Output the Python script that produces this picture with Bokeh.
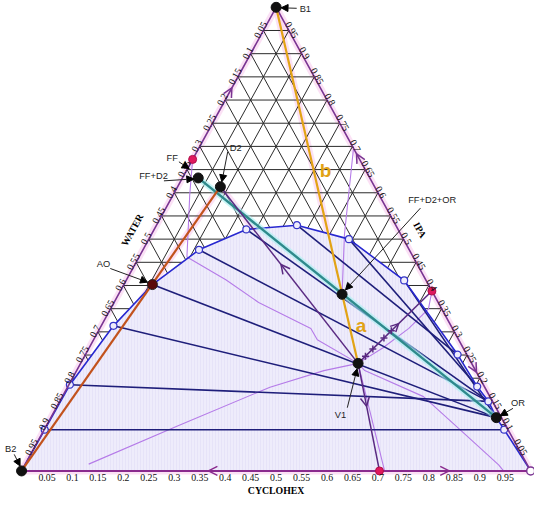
import math
import numpy as np
from bokeh.plotting import figure
from bokeh.models import Range1d, Arrow, NormalHead, OpenHead
from bokeh.core.properties import value
from bokeh.embed import file_html
from bokeh.resources import INLINE

# ---------------- DATA (mole fractions: c = cyclohexane, i = IPA, water = 1 - c - i)
tick_vals = [0.05, 0.10, 0.15, 0.20, 0.25, 0.30, 0.35, 0.40, 0.45, 0.50,
             0.55, 0.60, 0.65, 0.70, 0.75, 0.80, 0.85, 0.90, 0.95]
tick_text = ["0.05", "0.1", "0.15", "0.2", "0.25", "0.3", "0.35", "0.4", "0.45", "0.5",
             "0.55", "0.6", "0.65", "0.7", "0.75", "0.8", "0.85", "0.9", "0.95"]

# binodal curve (B2 -> water-rich branch -> plait region -> organic branch -> cyclohexane)
binodal_c = [0.000, 0.001, 0.002, 0.024, 0.056, 0.110, 0.181, 0.276, 0.393, 0.546, 0.731, 0.804, 0.842, 0.875, 0.9035, 1.000]
binodal_i = [0.000, 0.089, 0.186, 0.313, 0.402, 0.477, 0.521, 0.530, 0.500, 0.411, 0.251, 0.182, 0.150, 0.115, 0.089, 0.000]
circle_c = [0.001, 0.002, 0.024, 0.110, 0.181, 0.276, 0.393, 0.546, 0.731, 0.804, 0.842, 0.9035]
circle_i = [0.089, 0.186, 0.313, 0.477, 0.521, 0.530, 0.500, 0.411, 0.251, 0.182, 0.150, 0.089]

# tie lines (phase 1 -> phase 2)
tie1_c = [0.001, 0.002, 0.024, 0.056, 0.110, 0.181, 0.276, 0.393, 0.546]
tie1_i = [0.089, 0.186, 0.313, 0.402, 0.477, 0.521, 0.530, 0.500, 0.411]
tie2_c = [0.9035, 0.842, 0.875, 0.875, 0.842, 0.842, 0.731, 0.804, 0.875]
tie2_i = [0.089, 0.150, 0.115, 0.115, 0.150, 0.150, 0.251, 0.182, 0.115]

# named points (c, i)
B1 = (0.000, 1.000)
B2 = (0.000, 0.000)
AO = (0.056, 0.402)
D2 = (0.084, 0.613)
FF = (0.000, 0.672)
FFD2 = (0.031, 0.632)
FFD2OR = (0.439, 0.381)
V1 = (0.545, 0.232)
OR = (0.875, 0.115)
AZ_WC = (0.703, 0.000)     # water-cyclohexane azeotrope
AZ_IC = (0.612, 0.388)     # IPA-cyclohexane azeotrope

# residue-curve / boundary lines (thin violet)
curveA_c = [0.1245, 0.2568, 0.3976, 0.4856, 0.545, 0.5767, 0.6070, 0.6245, 0.612]
curveA_i = [0.0147, 0.0966, 0.1807, 0.2164, 0.232, 0.2653, 0.3074, 0.3494, 0.388]
curveB_c = [0.000, 0.033, 0.062, 0.094, 0.195, 0.284, 0.4145, 0.4394, 0.545]
curveB_i = [0.672, 0.5945, 0.5315, 0.4616, 0.4124, 0.3634, 0.3074, 0.2830, 0.232]
curveC_c = [0.545, 0.5659, 0.7094, 0.8149, 0.9305, 0.9467]
curveC_i = [0.232, 0.2164, 0.1603, 0.0903, 0.0132, 0.000]
curveD_c = [0.304, 0.379, 0.439]
curveD_i = [0.696, 0.5105, 0.381]
curveE_c = [0.545, 0.713]
curveE_i = [0.232, 0.000]

# ---------------- geometry (layout only)
W, H = 534, 496
SX, SY = 0.98, 0.974
REF_L, REF_R, REF_T, REF_B = 21.5, 541.0, 7.0, 483.0   # triangle corners in 550x512 layout
UX, UY = REF_R - REF_L, REF_B - REF_T                  # layout px per unit
PXX, PXY = UX * SX, UY * SY                            # screen px per unit
x0 = -REF_L * SX / PXX
y1 = REF_B * SY / PXY

def T(c, i):
    c = np.asarray(c, float); i = np.asarray(i, float)
    return c + 0.5 * i, i

def off(pt, dx, dy):
    X, Y = T(*pt)
    return float(X) + dx / UX, float(Y) - dy / UY

p = figure(width=W, height=H, x_range=Range1d(x0, x0 + W / PXX),
           y_range=Range1d(y1 - H / PXY, y1), output_backend="svg",
           toolbar_location=None, min_border=0, outline_line_color=None,
           x_axis_location=None, y_axis_location=None)
p.xgrid.visible = False
p.ygrid.visible = False
p.background_fill_color = "white"

theta = math.atan2(PXY, PXX / 2)

PURPLE = "#7A3592"
DARKP = "#5A2A82"
VIOLET = "#B57BE8"
PINK = "#F9CDEE"

# pink halos
for seg in [(B2, B1), (B1, (1, 0)), ((1, 0), B2), (B2, D2), (B1, V1), (V1, AZ_WC), (D2, V1)]:
    xs, ys = T([seg[0][0], seg[1][0]], [seg[0][1], seg[1][1]])
    p.line(xs, ys, line_color=PINK, line_width=7, line_alpha=0.6)

# grid (constant i, constant c, constant w)
gx, gy = [], []
for v in tick_vals:
    a = T([0, 1 - v], [v, v]); gx.append(a[0]); gy.append(a[1])
    a = T([v, v], [0, 1 - v]); gx.append(a[0]); gy.append(a[1])
    a = T([1 - v, 0], [0, 1 - v]); gx.append(a[0]); gy.append(a[1])
p.multi_line(gx, gy, line_color="#2b2b2b", line_width=1)

# two-phase region
bx, by = T(binodal_c, binodal_i)
p.patch(bx, by, fill_color="#EEECFB", line_color=None,
        hatch_pattern="vertical_line", hatch_color="#DCD7F4", hatch_scale=3,
        hatch_weight=0.6, hatch_alpha=0.7)

# thin violet residue curves
for cc, ii in [(curveA_c, curveA_i), (curveB_c, curveB_i), (curveC_c, curveC_i),
               (curveD_c, curveD_i), (curveE_c, curveE_i)]:
    p.line(*T(cc, ii), line_color=VIOLET, line_width=1.1)

# tie lines
tx = [T([a, b], [c, d])[0] for a, b, c, d in zip(tie1_c, tie2_c, tie1_i, tie2_i)]
ty = [T([a, b], [c, d])[1] for a, b, c, d in zip(tie1_c, tie2_c, tie1_i, tie2_i)]
p.multi_line(tx, ty, line_color="#1E1E7A", line_width=1.6)

# binodal
p.line(bx, by, line_color="#2828D0", line_width=1.6)
p.scatter(*T(circle_c, circle_i), size=7, marker="circle", line_color="#3434C8",
          fill_color="#EEECFB", line_width=1.2)

# triangle edges
ex, ey = T([0, 0, 1, 0], [0, 1, 0, 0])
p.line(ex, ey, line_color=PURPLE, line_width=1.6)
xs, ys = T([0, 1], [0, 0])
p.line(xs, ys, line_color="#8A2A8E", line_width=2)

# special lines
p.line(*T([FFD2[0], OR[0]], [FFD2[1], OR[1]]), line_color="#A8F0F2", line_width=6, line_alpha=0.6)
p.line(*T([FFD2[0], OR[0]], [FFD2[1], OR[1]]), line_color="#2E8A8C", line_width=2.4)
p.line(*T([B2[0], D2[0]], [B2[1], D2[1]]), line_color="#C2521C", line_width=2.2)
p.line(*T([D2[0], V1[0]], [D2[1], V1[1]]), line_color=DARKP, line_width=1.5)
p.line(*T([V1[0], AZ_WC[0]], [V1[1], AZ_WC[1]]), line_color=DARKP, line_width=1.5)
p.line(*T([V1[0], AZ_IC[0]], [V1[1], AZ_IC[1]]), line_color=DARKP, line_width=1.5)
p.line(*T([B1[0], V1[0]], [B1[1], V1[1]]), line_color="#E2A315", line_width=2.2)

# crosses along V1 -> IPA/cyclohexane azeotrope
tcross = np.array([0.1, 0.2, 0.35, 0.45])
cx = V1[0] + tcross * (AZ_IC[0] - V1[0]); cy = V1[1] + tcross * (AZ_IC[1] - V1[1])
p.scatter(*T(cx, cy), marker="cross", size=7, line_color=DARKP, line_width=1.5)

# arrows on lines
def arrow_at(c, i, c2, i2, color, size=9, L=4, width=1.5):
    X, Y = T(c, i); X2, Y2 = T(c2, i2)
    dx, dy = (X2 - X) * PXX, (Y2 - Y) * PXY
    n = math.hypot(dx, dy); ux, uy = dx / n, dy / n
    p.add_layout(Arrow(end=OpenHead(size=size, line_color=color, line_width=width),
                       x_start=float(X) - ux * L / PXX, y_start=float(Y) - uy * L / PXY,
                       x_end=float(X), y_end=float(Y), line_alpha=0))

arrow_at(0.367, 0.0, 0.0, 0.0, "#8A2A8E")
arrow_at(0.84, 0.0, 1.0, 0.0, "#8A2A8E")
arrow_at(0.0, 0.826, 0.0, 1.0, PURPLE)
arrow_at(0.316, 0.684, 0.0, 1.0, PURPLE)
arrow_at(0.787, 0.213, 1.0, 0.0, PURPLE)
tD = 0.44
arrow_at(D2[0] + tD * (V1[0] - D2[0]), D2[1] + tD * (V1[1] - D2[1]), D2[0], D2[1], DARKP)
tV = 0.4
arrow_at(V1[0] + tV * (AZ_WC[0] - V1[0]), V1[1] + tV * (AZ_WC[1] - V1[1]), AZ_WC[0], AZ_WC[1], DARKP)
tI = 0.55
arrow_at(V1[0] + tI * (AZ_IC[0] - V1[0]), V1[1] + tI * (AZ_IC[1] - V1[1]), AZ_IC[0], AZ_IC[1], DARKP, size=8)

# points
red_c = [FF[0], AZ_WC[0], AZ_IC[0]]
red_i = [FF[1], AZ_WC[1], AZ_IC[1]]
p.scatter(*T(red_c, red_i), size=8, marker="circle", fill_color="#E0185E", line_color="#B0104A")
blk_c = [B1[0], B2[0], D2[0], FFD2[0], FFD2OR[0], V1[0], OR[0]]
blk_i = [B1[1], B2[1], D2[1], FFD2[1], FFD2OR[1], V1[1], OR[1]]
p.scatter(*T(blk_c, blk_i), size=10, marker="circle", fill_color="#111111", line_color="#111111")
p.scatter(*T([AO[0]], [AO[1]]), size=10, marker="circle", fill_color="#5A0A0A", line_color="#222222")
p.scatter(*T([1.0], [0.0]), size=8, marker="circle", fill_color="white", line_color=PURPLE, line_width=1.5)

# ---------------- tick labels
serif = value("Liberation Serif")
FS = "9.8px"
tv = np.array(tick_vals)
p.text(*T(tv, np.zeros_like(tv)), text=tick_text, text_align="center", text_baseline="top",
       y_offset=3, text_font=serif, text_font_size=FS, text_color="#111111")
p.text(*T(np.zeros_like(tv), 1 - tv), text=tick_text, angle=theta, text_align="center",
       text_baseline="bottom", y_offset=1, text_font=serif, text_font_size=FS, text_color="#111111")
p.text(*T(1 - tv, tv), text=tick_text, angle=-theta, text_align="center",
       text_baseline="bottom", y_offset=1, text_font=serif, text_font_size=FS, text_color="#111111")

# axis titles
nx, ny = math.sin(theta), math.cos(theta)
L0 = 13.5
p.text(*T([0.5], [0.0]), text=["CYCLOHEX"], text_align="center", text_baseline="middle",
       y_offset=19.5, text_font=serif, text_font_style="bold", text_font_size=FS)
p.text(*T([0.0], [0.50]), text=["WATER"], angle=theta, text_align="center", text_baseline="bottom",
       x_offset=-nx * L0, y_offset=-ny * L0, text_font=serif, text_font_style="bold", text_font_size=FS)
p.text(*T([0.50], [0.50]), text=["IPA"], angle=-theta, text_align="center", text_baseline="bottom",
       x_offset=nx * L0, y_offset=-ny * L0, text_font=serif, text_font_style="bold", text_font_size=FS)

# ---------------- annotations with leaders (offsets in layout px)
sans = value("Liberation Sans")
ann = [  # (point, label, text dx, dy, align, tail dx, dy, head dx, dy)
    (B1, "B1", 24, 2, "left", 21, 1, 5, 0.5),
    (D2, "D2", 9.5, -40, "left", 7.5, -36, 1.5, -5),
    (FF, "FF", -15, -1.5, "right", -14, 2.5, -3.5, 9.5),
    (FFD2, "FF+D2", -31, -2, "right", -35, 3, -4.5, 1),
    (FFD2OR, "FF+D2+OR", 92, -96.5, "center", 80, -88.5, 3.5, -4.5),
    (AO, "AO", -50, -21.5, "center", -43, -16.5, -5, -2.5),
    (B2, "B2", -11, -23, "center", -7.5, -17, -1.5, -5),
    (V1, "V1", -18, 52.5, "center", -11, 45.5, -1, 5.5),
    (OR, "OR", 22, -15, "center", 17, -9.5, 4, -2),
]
for pt, lab, tdx, tdy, al, sdx, sdy, hdx, hdy in ann:
    tx_, ty_ = off(pt, tdx, tdy)
    p.text([tx_], [ty_], text=[lab], text_align=al, text_baseline="middle",
           text_font=sans, text_font_size="9.3px", text_color="#222222")
    xs_, ys_ = off(pt, sdx, sdy)
    xe_, ye_ = off(pt, hdx, hdy)
    p.add_layout(Arrow(end=NormalHead(size=7, fill_color="black", line_color="black"),
                       x_start=xs_, y_start=ys_, x_end=xe_, y_end=ye_,
                       line_color="#222222", line_width=1))

# "a" / "b" labels next to the orange line
for t, lab in [(0.459, "b"), (0.893, "a")]:
    c = B1[0] + t * (V1[0] - B1[0]); i = B1[1] + t * (V1[1] - B1[1])
    p.text(*T([c], [i]), text=[lab], x_offset=12 * SX, text_align="center", text_baseline="middle",
           text_font=sans, text_font_style="bold", text_font_size="19px", text_color="#E2A315")

open("out.html", "w").write(file_html(p, INLINE))
